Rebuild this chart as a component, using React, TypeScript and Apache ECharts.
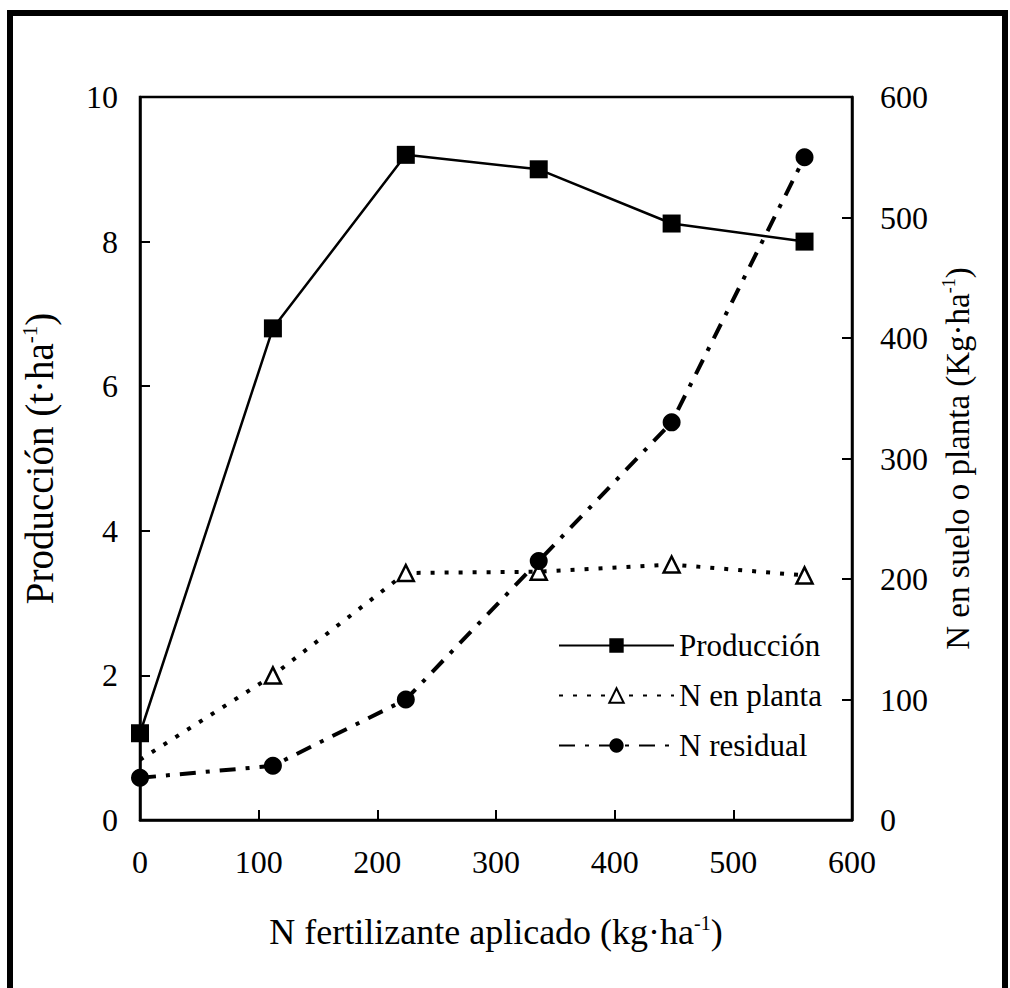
import React, { useEffect, useRef } from "react";
import * as echarts from "echarts";

const xValues = [0, 112, 224, 336, 448, 560];
const produccion = [1.2, 6.8, 9.2, 9.0, 8.25, 8.0];
const nPlanta = [50, 120, 205, 206, 212, 203];
const nResidual = [35, 45, 100, 215, 330, 550];
const xTicks = [0, 100, 200, 300, 400, 500, 600];
const leftTicks = [0, 2, 4, 6, 8, 10];
const rightTicks = [0, 100, 200, 300, 400, 500, 600];

const FONT = "'Liberation Serif', 'Times New Roman', serif";

const nameStyle = (size: number) => ({
  color: "#000",
  fontSize: size,
  fontFamily: FONT,
  rich: {
    t: { fontSize: size, fontFamily: FONT, color: "#000" },
    s: { fontSize: Math.round(size * 0.55), fontFamily: FONT, color: "#000", verticalAlign: "top", padding: [0, 0, Math.round(size * 0.5), 0] },
  },
});

export default function App() {
  const ref = useRef<HTMLDivElement>(null);
  useEffect(() => {
    if (!ref.current) return;
    const chart = echarts.init(ref.current, undefined, { renderer: "svg" });
    const pair = (ys: number[]) => xValues.map((x, i) => [x, ys[i]]);
    const planta = pair(nPlanta).map((p, i) =>
      i === 0 ? { value: p, symbol: "none" } : { value: p }
    );
    const axisCommon = {
      axisLine: { show: true, lineStyle: { color: "#000", width: 2.5 } },
      axisTick: { show: true, inside: true, length: 10, lineStyle: { color: "#000", width: 2 } },
      splitLine: { show: false },
      axisLabel: { color: "#000", fontSize: 32, fontFamily: FONT },
    };
    chart.setOption({
      animation: false,
      backgroundColor: "#fff",
      grid: {
        left: 140,
        right: 158,
        top: 97,
        bottom: 168,
        show: true,
        borderColor: "#000",
        borderWidth: 2.5,
      },
      xAxis: {
        type: "value",
        min: xTicks[0],
        max: xTicks[xTicks.length - 1],
        interval: 100,
        ...axisCommon,
        axisLabel: { ...axisCommon.axisLabel, margin: 26 },
        name: "{t|N fertilizante aplicado (kg·ha}{s|-1}{t|)}",
        nameLocation: "middle",
        nameGap: 93,
        nameTextStyle: nameStyle(36),
      },
      yAxis: [
        {
          type: "value",
          min: leftTicks[0],
          max: leftTicks[leftTicks.length - 1],
          interval: 2,
          position: "left",
          ...axisCommon,
          axisLabel: { ...axisCommon.axisLabel, margin: 22 },
          name: "{t|Producción (t·ha}{s|-1}{t|)}",
          nameLocation: "middle",
          nameRotate: 90,
          nameGap: 80,
          nameTextStyle: nameStyle(39),
        },
        {
          type: "value",
          min: rightTicks[0],
          max: rightTicks[rightTicks.length - 1],
          interval: 100,
          position: "right",
          ...axisCommon,
          axisLabel: { ...axisCommon.axisLabel, margin: 28 },
          name: "{t|N en suelo o planta (Kg·ha}{s|-1}{t|)}",
          nameLocation: "middle",
          nameRotate: 90,
          nameGap: 88,
          nameTextStyle: nameStyle(33),
        },
      ],
      legend: {
        orient: "vertical",
        left: 553,
        top: 625,
        itemWidth: 115,
        itemHeight: 18,
        itemGap: 19,
        textStyle: { color: "#000", fontSize: 31, fontFamily: FONT },
        data: ["Producción", "N en planta", "N residual"],
      },
      series: [
        {
          name: "Producción",
          type: "line",
          yAxisIndex: 0,
          data: pair(produccion),
          symbol: "rect",
          symbolSize: 18,
          itemStyle: { color: "#000" },
          lineStyle: { color: "#000", width: 2.5, type: "solid" },
        },
        {
          name: "N en planta",
          type: "line",
          yAxisIndex: 1,
          data: planta,
          symbol: "triangle",
          symbolSize: 16,
          itemStyle: { color: "#fff", borderColor: "#000", borderWidth: 2.5 },
          lineStyle: { color: "#000", width: 4, type: [4, 10] },
        },
        {
          name: "N residual",
          type: "line",
          yAxisIndex: 1,
          data: pair(nResidual),
          symbol: "circle",
          symbolSize: 18,
          itemStyle: { color: "#000" },
          lineStyle: { color: "#000", width: 4, type: [16, 10, 4, 10] },
        },
      ],
      graphic: [
        {
          type: "rect",
          shape: { x: 10, y: 13, width: 995, height: 1000 },
          style: { fill: "none", stroke: "#000", lineWidth: 6 },
          silent: true,
        },
      ],
    });
    return () => chart.dispose();
  }, []);
  return (
    <div
      ref={ref}
      style={{ position: "fixed", left: 0, top: 0, width: 1010, height: 988, background: "#fff" }}
    />
  );
}
